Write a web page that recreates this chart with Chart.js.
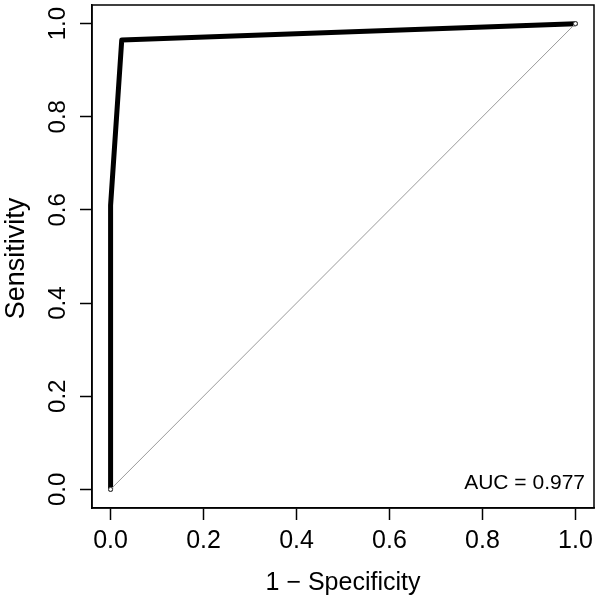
<!DOCTYPE html>
<html>
<head>
<meta charset="utf-8">
<script src="https://cdn.jsdelivr.net/npm/chart.js@4/dist/chart.umd.min.js"></script>
<style>
  html, body { margin: 0; padding: 0; background: #fff; }
  #wrap { width: 600px; height: 603px; }
</style>
</head>
<body>
<div id="wrap"><canvas id="roc"></canvas></div>
<script>
// ROC curve
var rocFpr = [0, 0, 0.024, 1];
var rocTpr = [0, 0.61, 0.965, 1];
var diagX = [0, 1];
var diagY = [0, 1];
var tickValues = [0, 0.2, 0.4, 0.6, 0.8, 1.0];
var xTitle = "1 \u2212 Specificity";
var yTitle = "Sensitivity";
var aucLabel = "AUC = 0.977";

var FONT = "'Liberation Sans', Arial, sans-serif";

function toPoints(xs, ys) {
  var out = [];
  for (var i = 0; i < xs.length; i++) out.push({ x: xs[i], y: ys[i] });
  return out;
}

// box round the plot, rotated y labels (R style), axis titles and the AUC note
var boxPlugin = {
  id: "box",
  afterDraw: function(chart) {
    var ctx = chart.ctx, a = chart.chartArea, ys = chart.scales.y;
    ctx.save();
    ctx.strokeStyle = "#000";
    ctx.lineWidth = 1.5;
    ctx.strokeRect(a.left, a.top, a.right - a.left, a.bottom - a.top);
    ctx.fillStyle = "#000";

    ctx.font = "24px " + FONT;
    ctx.textAlign = "center";
    ctx.textBaseline = "alphabetic";
    tickValues.forEach(function(v) {
      ctx.save();
      ctx.translate(65, ys.getPixelForValue(v));
      ctx.rotate(-Math.PI / 2);
      ctx.fillText(v.toFixed(1), 0, 0);
      ctx.restore();
    });

    ctx.font = "27px " + FONT;
    ctx.save();
    ctx.translate(24, (a.top + a.bottom) / 2 + 2);
    ctx.rotate(-Math.PI / 2);
    ctx.fillText(yTitle, 0, 0);
    ctx.restore();

    ctx.font = "25px " + FONT;
    ctx.fillText(xTitle, (a.left + a.right) / 2, 590);

    ctx.font = "21px " + FONT;
    ctx.textAlign = "right";
    ctx.fillText(aucLabel, a.right - 9, a.bottom - 19);
    ctx.restore();
  }
};

new Chart(document.getElementById("roc"), {
  type: "scatter",
  data: {
    datasets: [
      {
        label: "diagonal",
        data: toPoints(diagX, diagY),
        showLine: true,
        borderColor: "#9a9a9a",
        borderWidth: 1,
        pointRadius: 2,
        pointBorderColor: "#444",
        pointBackgroundColor: "#fff",
        pointBorderWidth: 1
      },
      {
        label: "ROC",
        data: toPoints(rocFpr, rocTpr),
        showLine: true,
        borderColor: "#000",
        borderWidth: 5,
        borderJoinStyle: "round",
        borderCapStyle: "round",
        pointRadius: 0
      }
    ]
  },
  options: {
    responsive: true,
    maintainAspectRatio: false,
    animation: false,
    layout: { padding: { top: 4, right: 6, left: 0, bottom: 0 } },
    plugins: { legend: { display: false }, tooltip: { enabled: false } },
    scales: {
      x: {
        type: "linear",
        min: -0.04,
        max: 1.04,
        afterBuildTicks: function(s) { s.ticks = tickValues.map(function(v) { return { value: v }; }); },
        afterFit: function(s) { s.height = 95; },
        grid: { drawOnChartArea: false, drawTicks: true, tickLength: 12, tickColor: "#000", tickWidth: 1.5 },
        border: { display: true, color: "#000", width: 1.5 },
        ticks: {
          color: "#000",
          font: { family: FONT, size: 25 },
          padding: 6,
          maxRotation: 0,
          callback: function(v) { return v.toFixed(1); }
        },
        title: { display: false }
      },
      y: {
        type: "linear",
        min: -0.04,
        max: 1.04,
        afterBuildTicks: function(s) { s.ticks = tickValues.map(function(v) { return { value: v }; }); },
        afterFit: function(s) { s.width = 92; },
        grid: { drawOnChartArea: false, drawTicks: true, tickLength: 12, tickColor: "#000", tickWidth: 1.5 },
        border: { display: true, color: "#000", width: 1.5 },
        ticks: { display: false },
        title: { display: false }
      }
    }
  },
  plugins: [boxPlugin]
});
</script>
</body>
</html>
